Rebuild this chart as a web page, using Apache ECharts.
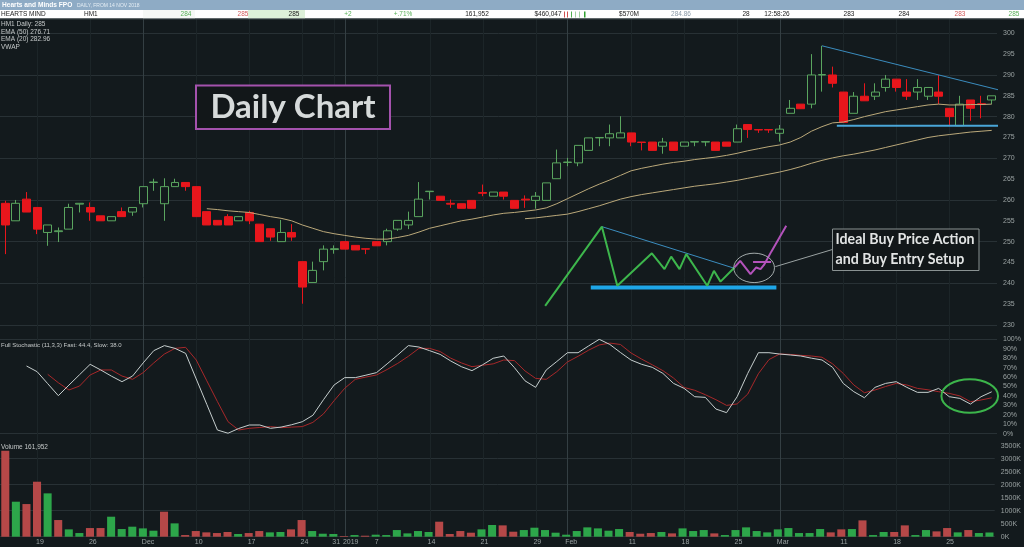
<!DOCTYPE html>
<html><head><meta charset="utf-8">
<script src="https://cdn.jsdelivr.net/npm/echarts@6/dist/echarts.min.js"></script>
<style>html,body{margin:0;padding:0;background:#131a1d;}#c{width:1024px;height:547px;}</style>
</head><body><div id="c"></div>
<script>
// ---------- DATA ----------
const categories = [
 '2018-11-14','2018-11-15','2018-11-16','2018-11-19','2018-11-20','2018-11-21','2018-11-22','2018-11-23','2018-11-26','2018-11-27','2018-11-28','2018-11-29','2018-11-30',
 '2018-12-03','2018-12-04','2018-12-05','2018-12-06','2018-12-07','2018-12-10','2018-12-11','2018-12-12','2018-12-13','2018-12-14','2018-12-17','2018-12-18','2018-12-19','2018-12-20','2018-12-21','2018-12-24','2018-12-27','2018-12-28','2018-12-31',
 '2019-01-02','2019-01-03','2019-01-04','2019-01-07','2019-01-08','2019-01-09','2019-01-10','2019-01-11','2019-01-14','2019-01-15','2019-01-16','2019-01-17','2019-01-18','2019-01-21','2019-01-22','2019-01-23','2019-01-24','2019-01-25','2019-01-29','2019-01-30','2019-01-31',
 '2019-02-01','2019-02-04','2019-02-05','2019-02-06','2019-02-07','2019-02-08','2019-02-11','2019-02-12','2019-02-13','2019-02-14','2019-02-15','2019-02-18','2019-02-19','2019-02-20','2019-02-21','2019-02-22','2019-02-25','2019-02-26','2019-02-27','2019-02-28',
 '2019-03-01','2019-03-04','2019-03-05','2019-03-06','2019-03-07','2019-03-08','2019-03-11','2019-03-12','2019-03-13','2019-03-14','2019-03-15','2019-03-18','2019-03-19','2019-03-20','2019-03-21','2019-03-22','2019-03-25','2019-03-26','2019-03-27','2019-03-28','2019-03-29'
];
const opens  = [259.2,255.0,260.2,258.2,252.2,252.4,253.0,259.0,258.2,256.2,255.0,257.2,257.1,259.1,264.2,259.1,263.2,264.2,263.2,257.2,255.1,256.0,255.0,257.0,254.2,253.1,250.0,252.2,245.2,240.2,245.2,248.1,250.0,249.1,248.3,250.0,250.0,253.0,254.0,256.0,262.0,260.9,259.2,259.1,259.9,261.8,260.9,261.9,259.9,260.2,259.9,259.9,265.1,269.0,268.9,271.9,274.9,274.9,274.9,276.1,273.9,273.9,272.9,273.9,272.9,273.9,273.9,273.9,273.9,273.9,278.1,276.9,276.9,276.0,280.8,283.0,283.0,290.0,290.0,285.9,280.8,284.9,284.9,287.0,289.0,285.9,285.9,284.9,285.9,282.0,277.8,284.0,283.1,284.0];
const closes = [254.0,259.2,257.1,253.0,254.0,252.6,258.2,259.2,257.1,255.0,256.0,256.0,258.2,263.2,264.3,263.2,264.2,263.2,256.0,254.0,254.0,254.0,256.0,255.0,250.0,251.1,252.2,251.1,239.1,243.1,248.2,248.3,248.2,248.0,248.2,249.0,252.6,255.1,255.1,260.2,262.1,259.9,259.0,258.0,258.0,261.6,261.9,260.9,258.0,260.0,260.9,264.1,268.9,269.1,273.1,274.9,275.0,275.9,276.1,273.9,273.8,271.9,273.9,271.9,273.9,274.0,274.0,271.9,272.9,277.1,276.9,276.8,276.8,277.0,282.0,281.9,290.0,290.1,288.0,278.6,284.9,283.8,285.9,289.0,287.0,284.9,287.0,287.0,284.9,280.0,283.0,282.0,282.9,285.0];
const lows   = [247.0,255.0,257.1,251.8,249.0,249.9,253.0,257.0,255.0,255.0,255.0,256.0,256.2,258.2,262.2,255.0,263.2,262.2,256.0,254.0,254.0,254.0,255.0,254.2,250.0,250.2,250.0,250.2,235.1,240.2,243.1,247.1,248.2,248.0,247.0,249.0,249.1,252.6,253.0,256.0,260.1,259.9,258.1,258.0,258.0,260.9,260.9,260.1,258.0,258.1,257.9,259.9,265.1,268.1,268.1,271.9,272.9,272.9,274.9,272.9,271.9,271.9,271.1,271.9,272.9,272.9,272.9,271.9,272.9,273.9,274.9,276.1,276.1,274.0,280.8,281.9,282.0,286.0,287.0,278.6,280.8,283.8,284.0,286.0,286.0,284.0,284.0,284.0,283.0,278.0,277.8,279.0,279.6,283.0];
const highs  = [259.8,260.0,261.9,258.2,254.0,253.4,259.1,259.2,259.4,256.2,256.0,258.2,258.2,263.2,265.1,265.2,265.1,264.2,263.2,257.2,255.1,256.6,256.0,257.4,254.2,253.1,255.2,254.2,245.2,245.2,249.1,249.1,250.0,249.1,248.3,250.0,253.1,255.1,257.2,264.3,262.1,260.9,260.1,259.1,259.9,263.7,261.9,261.9,259.9,261.1,261.9,264.1,272.1,270.1,273.1,274.9,275.0,278.1,280.1,276.1,273.9,273.9,274.9,273.9,273.9,274.0,274.0,273.9,273.9,278.1,278.1,276.9,276.9,278.0,284.0,283.0,295.0,297.0,292.0,285.9,285.9,288.0,288.0,290.0,289.0,289.0,289.0,287.0,290.0,282.0,285.0,284.0,285.0,285.0];

const ema20Start = 19;
const ema20Values = [257.9,257.7,257.4,257.2,257.0,256.5,256.0,255.6,255.0,254.0,253.2,252.4,251.9,251.5,251.1,250.8,250.6,250.6,251.0,251.5,252.3,253.2,253.8,254.4,255.0,255.4,255.9,256.4,256.8,257.0,257.3,257.6,258.1,259.1,260.3,261.5,262.7,263.8,264.8,265.9,267.0,267.6,268.1,268.6,269.0,269.3,269.7,270.0,270.3,270.7,271.2,271.8,272.3,272.8,273.2,273.9,275.0,276.5,277.6,278.5,278.7,279.3,280.0,280.6,281.2,281.6,282.0,282.4,282.8,283.0,282.8,282.8,282.9,282.9,283.0];
const ema50Start = 49;
const ema50Values = [255.5,255.7,256.0,256.3,256.6,257.2,257.9,258.6,259.4,260.2,260.8,261.3,261.7,262.1,262.5,262.9,263.3,263.6,263.9,264.3,264.7,265.2,265.7,266.2,266.7,267.3,268.0,268.8,269.5,270.1,270.6,271.0,271.5,272.0,272.6,273.2,273.8,274.4,275.0,275.4,275.7,276.0,276.3,276.5,276.7];

const fastStart = 2;
const fastValues = [71.7,65.7,53,40.3,51.5,62.5,73.5,67.5,61,55.1,61.1,75,88,93.3,90.4,85.1,58,31,3.9,0.5,5.5,9.2,9.2,5.7,7,9.5,12.7,19.5,36,51.6,59.4,59.4,62,64.7,74,83.4,93.3,91.8,88,84,77,71,66.8,73,79.9,82.3,70,56,49.1,67.5,76.5,85.8,85.8,93,100,94.5,86,78,73.5,70.3,63.9,53.3,48,39.2,38.5,26.1,22.3,39.2,63.9,85.8,85.8,84.4,83.4,82.3,80,78.1,70.3,53.3,44.5,38.1,49.1,53.3,55.1,49.1,43.8,43.8,48,39.2,37.4,31.4,39.2,44.4];
const slowStart = 4;
const slowValues = [62.9,54,46.3,50.5,62.2,67.5,67.5,61.1,57.6,64.7,75,84.4,90.4,91.5,78.1,56,34,12.7,3.9,5.7,6.6,7.5,6.4,7,7.5,12,21,35,48.1,57.6,60,62.2,68,74.5,82,90.4,90.4,87,80,75,71,72.5,74,78.1,77.4,66.5,58.6,57.6,65.7,76,82,88.5,94,96,94.5,85.5,79,73,66.8,59,49,46,41.3,36,30,31.5,42,63.5,78.5,84.4,84,83,82.3,81,74,63.9,51.6,43.4,46.3,50,53.3,51.6,48,46.5,44.5,42.7,40,33.9,35.7,38];

const volumesK = [3308,1346,1256,2115,1667,641,282,141,333,333,769,295,385,320,231,962,513,64,218,167,141,180,103,141,218,167,180,282,641,218,115,103,26,64,38,77,64,256,128,218,180,577,103,218,154,282,449,436,192,256,346,256,154,77,218,359,320,231,295,180,115,141,180,128,320,218,256,128,64,256,359,218,167,282,333,141,141,295,167,282,295,628,64,180,180,436,64,256,205,333,167,256,141,162];
const volumeUp = [0,1,0,0,1,0,1,1,0,0,1,1,1,1,1,0,1,0,0,0,0,0,1,0,0,1,1,0,0,1,1,1,0,1,0,1,1,1,1,1,1,0,0,0,0,1,1,0,0,1,1,1,1,1,1,1,1,1,1,0,0,0,1,0,1,1,1,0,1,1,1,1,1,1,1,1,1,1,0,0,1,0,1,1,0,0,1,1,0,0,1,0,1,1];

const tickIndex = [3,8,13,18,23,28,31,32,35,40,45,50,53,59,64,69,73,79,84,89];
const tickText  = ['19','26','Dec','10','17','24','31','2019','7','14','21','29','Feb','11','18','25','Mar','11','18','25'];
const monthIndex = [13,32,53,73];

// annotation lines (bar index, price)
const patternGreen = [[50.9,234.6],[56.25,253.6],[57.7,239.4],[60.96,247.2],[62.15,243.4],[62.78,246.4],[63.57,243.4],[64.2,247.0],[66.18,239.4],[66.81,243.0],[67.43,240.4],[68.75,243.8]];
const patternPurple = [[68.75,243.8],[69.29,245.4],[70.26,242.2],[70.8,243.8],[71.2,243.4],[71.53,244.4],[72.22,247.6],[73.63,253.8]];
const purpleLevel = [[70.5,245.1],[72.2,245.1]];
const patternTrend = [[56.25,253.6],[68.75,243.6]];
const patternSupport = [[55.2,239.0],[72.7,239.0]];
const priceTrend = [[77.0,297.0],[94.0,286.2]];
const priceSupport = [[78.4,277.8],[94.0,277.8]];
const calloutLine = [[72.6,244.0],[78.1,248.2]];
const setupEllipse = [[70.6,243.7,1.92,3.53]];
// stochastic highlight (bar index, %, x-radius in bars, y-radius in %)
const stochEllipse = [[90.93,39.9,2.67,17.7]];

// ---------- BUILD ----------
const BG = '#131a1d';
const AX = '#9aa2a2';
const FONT = '"Liberation Sans", Arial, sans-serif';
function pad(start, vals){ const a = new Array(categories.length).fill(null); vals.forEach((v,i)=>{a[start+i]=v;}); return a; }
const candleData = categories.map((d,i)=>[opens[i],closes[i],lows[i],highs[i]]);
const volData = volumesK.map((v,i)=>({value:v,itemStyle:{color: volumeUp[i] ? '#2da64a' : '#b54848'}}));
const T = 'rgba(0,0,0,0)';
const GL = '#283135';

const chart = echarts.init(document.getElementById('c'));
const lineS = (data, color, width, extra) => Object.assign({type:'line', xAxisIndex:1, yAxisIndex:0, data, showSymbol:false, symbol:'none', silent:true, lineStyle:{color, width}, z:5}, extra||{});
const ellipseSeries = (data, xi, yi, color, width) => ({type:'custom', xAxisIndex:xi, yAxisIndex:yi, data, silent:true, z:6, clip:false,
  renderItem:(params, api)=>{
    const c = api.coord([api.value(0), api.value(1)]);
    const s = api.size([api.value(2), api.value(3)]);
    return {type:'ellipse', shape:{cx:c[0], cy:c[1], rx:s[0], ry:s[1]}, style:{fill:'none', stroke:color, lineWidth:width}};
  }});
const vLineSeries = (idxs, color) => ({type:'custom', xAxisIndex:4, yAxisIndex:3, data: idxs.map(i=>[i,0]), silent:true, z:0,
  renderItem:(params, api)=>{
    const x = Math.round(api.coord([api.value(0), 0])[0]) + 0.5;
    const cs = params.coordSys;
    return {type:'line', shape:{x1:x, y1:cs.y, x2:x, y2:cs.y+cs.height}, style:{stroke:color, lineWidth:1}};
  }});

const hdrY = 14.6;
const hdrText = (t, x, color, align) => ({type:'text', x, y:hdrY, z:101, style:{text:t, font:'6.5px '+FONT, fill:color, align:align||'center', verticalAlign:'middle'}});

chart.setOption({
  animation:false,
  backgroundColor: BG,
  grid:[
    {left:0, right:27, top:12.47, height:333.33},
    {left:0, right:27, top:339.3, height:94.4},
    {left:0, right:27, top:445.7, height:91},
    {left:0, right:27, top:18, height:518.7}
  ],
  xAxis:[
    {type:'category', gridIndex:0, data:categories, boundaryGap:true, axisLine:{show:false}, axisTick:{show:false}, axisLabel:{show:false}, splitLine:{show:false}},
    {type:'value', gridIndex:0, min:-0.5, max:93.5, show:false},
    {type:'category', gridIndex:1, data:categories, boundaryGap:true, show:false},
    {type:'category', gridIndex:2, data:categories, boundaryGap:true, axisLine:{show:false}, axisTick:{show:false}, splitLine:{show:false},
      axisLabel:{color:AX, fontSize:7, fontFamily:FONT, margin:2, align:'left', padding:[0,0,0,-1],
        interval:(idx)=>tickIndex.indexOf(idx)>=0,
        formatter:(v,idx)=>{const k=tickIndex.indexOf(idx); return k>=0?tickText[k]:'';}}},
    {type:'category', gridIndex:3, data:categories, boundaryGap:true, show:false},
    {type:'value', gridIndex:1, min:-0.5, max:93.5, show:false}
  ],
  yAxis:[
    {type:'value', gridIndex:0, position:'right', min:225, max:305, interval:5, axisLine:{show:false}, axisTick:{show:false},
      axisLabel:{color:AX, fontSize:7, fontFamily:FONT, margin:6, formatter:(v)=> (v<230||v>300)?'':String(v)},
      splitLine:{show:true, lineStyle:{color:[T,GL], width:1}}},
    {type:'value', gridIndex:1, position:'right', min:0, max:100, interval:10, axisLine:{show:false}, axisTick:{show:false},
      axisLabel:{color:AX, fontSize:7, fontFamily:FONT, margin:6, formatter:(v)=>v+'%'},
      splitLine:{show:true, lineStyle:{color:[GL,T,T,T,T,T,T,T,T,T], width:1}}},
    {type:'value', gridIndex:2, position:'right', min:0, max:3500, interval:500, axisLine:{show:false}, axisTick:{show:false},
      axisLabel:{color:AX, fontSize:7, fontFamily:FONT, margin:6, formatter:(v)=>v+'K'},
      splitLine:{show:true, lineStyle:{color:[GL,T], width:1}}},
    {type:'value', gridIndex:3, min:0, max:1, show:false},
  ],
  series:[
    vLineSeries(tickIndex.filter(i=>monthIndex.indexOf(i)<0), '#1c2528'),
    vLineSeries(monthIndex, '#343f43'),
    {type:'candlestick', xAxisIndex:0, yAxisIndex:0, data:candleData, barWidth:'80%', z:3,
      itemStyle:{color:BG, color0:'#e8161c', borderColor:'#5aa55f', borderColor0:'#e8161c', borderWidth:1}},
    {type:'line', xAxisIndex:0, yAxisIndex:0, data:pad(ema20Start, ema20Values), showSymbol:false, symbol:'none', lineStyle:{color:'#bba97a', width:1}, z:4},
    {type:'line', xAxisIndex:0, yAxisIndex:0, data:pad(ema50Start, ema50Values), showSymbol:false, symbol:'none', lineStyle:{color:'#bba97a', width:1}, z:4},
    lineS(patternSupport, '#1ea6e8', 4),
    lineS(patternTrend, '#3b8dbf', 1),
    lineS(patternGreen, '#3db64c', 2),
    lineS(patternPurple, '#b352bb', 2),
    lineS(purpleLevel, '#b352bb', 2),
    lineS(priceTrend, '#3b8dbf', 1, {clip:false}),
    lineS(priceSupport, '#4aa6d8', 2, {clip:false}),
    lineS(calloutLine, '#9aa2a2', 1),
    ellipseSeries(setupEllipse, 1, 0, '#a4acac', 1),
    {type:'line', xAxisIndex:2, yAxisIndex:1, data:pad(slowStart, slowValues), showSymbol:false, symbol:'none', lineStyle:{color:'#a8282a', width:1}},
    {type:'line', xAxisIndex:2, yAxisIndex:1, data:pad(fastStart, fastValues), showSymbol:false, symbol:'none', lineStyle:{color:'#c6cece', width:1}},
    ellipseSeries(stochEllipse, 5, 1, '#3cb54b', 2),
    {type:'bar', xAxisIndex:3, yAxisIndex:2, data:volData, barWidth:'76%'}
  ],
  graphic:[
    // header
    {type:'rect', z:100, shape:{x:0,y:0,width:1024,height:10}, style:{fill:'#8eabc5'}},
    {type:'text', z:101, x:2, y:5.2, style:{text:'Hearts and Minds FPO', font:'bold 6.6px '+FONT, fill:'#ffffff', verticalAlign:'middle'}},
    {type:'text', z:101, x:77, y:5.6, style:{text:'DAILY, FROM 14 NOV 2018', font:'5px '+FONT, fill:'#e4edf4', verticalAlign:'middle'}},
    {type:'rect', z:100, shape:{x:0,y:10,width:1024,height:8.6}, style:{fill:'#ffffff'}},
    {type:'rect', z:100, shape:{x:248,y:10,width:57,height:8.6}, style:{fill:'#ddf0d9'}},
    {type:'rect', z:100, shape:{x:143,y:10,width:52,height:8.6}, style:{fill:'#f6f8f6'}},
    {type:'rect', z:100, shape:{x:0,y:18.6,width:1024,height:0.8}, style:{fill:'#3a4448'}},
    hdrText('HEARTS MIND', 1, '#222', 'left'),
    hdrText('HM1', 84, '#222', 'left'),
    hdrText('284', 186, '#58b058'),
    hdrText('285', 243, '#d35a5a'),
    hdrText('285', 294, '#222'),
    hdrText('+2', 348, '#58b058'),
    hdrText('+.71%', 403, '#58b058'),
    hdrText('161,952', 477, '#222'),
    hdrText('$460,047', 548, '#222'),
    {type:'rect', z:101, shape:{x:564,y:11.5,width:1,height:6}, style:{fill:'#d05050'}},
    {type:'rect', z:101, shape:{x:567,y:11.5,width:1,height:6}, style:{fill:'#d05050'}},
    {type:'rect', z:101, shape:{x:571,y:11.5,width:1,height:6}, style:{fill:'#50b050'}},
    {type:'rect', z:101, shape:{x:575,y:11.5,width:1,height:6}, style:{fill:'#a0d0a0'}},
    {type:'rect', z:101, shape:{x:579,y:11.5,width:1,height:6}, style:{fill:'#a0d0a0'}},
    {type:'rect', z:101, shape:{x:584,y:11.5,width:1.5,height:6}, style:{fill:'#30a030'}},
    hdrText('$570M', 629, '#222'),
    hdrText('284.86', 681, '#8a9aa8'),
    hdrText('28', 746, '#222'),
    hdrText('12:58:26', 777, '#222'),
    hdrText('283', 849, '#222'),
    hdrText('284', 904, '#222'),
    hdrText('283', 960, '#d35a5a'),
    hdrText('285', 1014, '#58b058'),
    // legends
    {type:'text', z:50, x:1, y:24.7, style:{text:'HM1 Daily: 285', font:'6.5px '+FONT, fill:'#c4c8c8', verticalAlign:'middle'}},
    {type:'text', z:50, x:1, y:32.3, style:{text:'EMA (50) 276.71', font:'6.5px '+FONT, fill:'#c4c8c8', verticalAlign:'middle'}},
    {type:'text', z:50, x:1, y:39.7, style:{text:'EMA (20) 282.96', font:'6.5px '+FONT, fill:'#c4c8c8', verticalAlign:'middle'}},
    {type:'text', z:50, x:1, y:47, style:{text:'VWAP', font:'6.5px '+FONT, fill:'#c4c8c8', verticalAlign:'middle'}},
    {type:'text', z:50, x:1, y:345, style:{text:'Full Stochastic (11,3,3) Fast: 44.4, Slow: 38.0', font:'6px '+FONT, fill:'#c4c8c8', verticalAlign:'middle'}},
    {type:'text', z:50, x:1, y:447.5, style:{text:'Volume 161,952', font:'6.5px '+FONT, fill:'#c4c8c8', verticalAlign:'middle'}},
    // Daily Chart box
    {type:'rect', z:50, shape:{x:196,y:85.5,width:194,height:43.5}, style:{fill:'#121719', stroke:'#a452ad', lineWidth:2}},
    {type:'text', z:51, x:293, y:107.5, style:{text:'Daily Chart', font:'bold 33px Lato, "Open Sans", sans-serif', fill:'#d6dada', align:'center', verticalAlign:'middle'}},
    // callout box
    {type:'rect', z:50, shape:{x:832.5,y:229,width:146.5,height:41.5}, style:{fill:'#121719', stroke:'#8a9292', lineWidth:1}},
    {type:'text', z:51, x:835.5, y:239.5, style:{text:'Ideal Buy Price Action', font:'bold 14.2px Lato, "Open Sans", sans-serif', fill:'#e2e4e4', verticalAlign:'middle'}},
    {type:'text', z:51, x:835.5, y:259, style:{text:'and Buy Entry Setup', font:'bold 14.2px Lato, "Open Sans", sans-serif', fill:'#e2e4e4', verticalAlign:'middle'}}
  ]
});
</script>
</body></html>
